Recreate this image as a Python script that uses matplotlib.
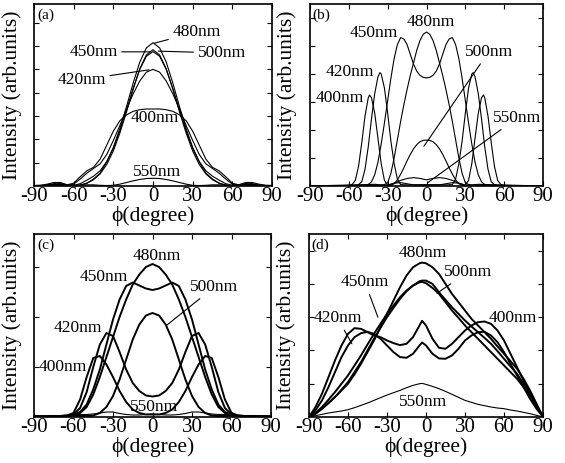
import matplotlib
matplotlib.use("Agg")
import matplotlib.pyplot as plt

plt.rcParams['font.family'] = ['Liberation Serif', 'DejaVu Serif']
plt.rcParams['mathtext.fontset'] = 'stix'

# ---------------- panel (a) ----------------
phi_a = [-90, -85, -80, -75, -70, -65, -60, -55, -50, -45, -40, -35, -30, -25, -20, -15, -10, -5,
         0, 5, 10, 15, 20, 25, 30, 35, 40, 45, 50, 55, 60, 65, 70, 75, 80, 85, 90]
a_480 = [0.02, 0.02, 0.03, 0.08, 0.10, 0.06, 0.02, 0.03, 0.12, 0.30, 0.55, 1.03, 1.65, 2.47, 3.41, 4.41, 5.31, 5.92,
         6.14, 5.92, 5.31, 4.41, 3.41, 2.47, 1.65, 1.03, 0.55, 0.30, 0.12, 0.03, 0.02, 0.06, 0.10, 0.08, 0.03, 0.02, 0.02]
a_500 = [0.02, 0.02, 0.03, 0.06, 0.08, 0.04, 0.02, 0.04, 0.12, 0.27, 0.52, 0.92, 1.50, 2.28, 3.18, 4.15, 5.02, 5.62,
         5.84, 5.62, 5.02, 4.15, 3.18, 2.28, 1.50, 0.92, 0.52, 0.27, 0.12, 0.04, 0.02, 0.04, 0.08, 0.06, 0.03, 0.02, 0.02]
a_450 = [0.02, 0.02, 0.02, 0.05, 0.06, 0.03, 0.03, 0.10, 0.25, 0.42, 0.65, 1.05, 1.62, 2.38, 3.25, 4.18, 5.00, 5.56,
         5.76, 5.56, 5.00, 4.18, 3.25, 2.38, 1.62, 1.05, 0.65, 0.42, 0.25, 0.10, 0.03, 0.03, 0.06, 0.05, 0.02, 0.02, 0.02]
a_420 = [0.02, 0.02, 0.05, 0.10, 0.08, 0.03, 0.08, 0.30, 0.55, 0.75, 0.95, 1.35, 1.95, 2.60, 3.30, 3.95, 4.50, 4.88,
         5.00, 4.88, 4.50, 3.95, 3.30, 2.60, 1.95, 1.35, 0.95, 0.75, 0.55, 0.30, 0.08, 0.03, 0.08, 0.10, 0.05, 0.02, 0.02]
a_400 = [0.02, 0.03, 0.08, 0.15, 0.15, 0.05, 0.12, 0.40, 0.65, 0.80, 1.15, 1.75, 2.35, 2.80, 3.05, 3.20, 3.27, 3.30,
         3.30, 3.30, 3.27, 3.20, 3.05, 2.80, 2.35, 1.75, 1.15, 0.80, 0.65, 0.40, 0.12, 0.05, 0.15, 0.15, 0.08, 0.03, 0.02]
a_550 = [0.02, 0.02, 0.02, 0.02, 0.02, 0.02, 0.02, 0.04, 0.05, 0.05, 0.03, 0.02, 0.03, 0.08, 0.15, 0.22, 0.28, 0.32,
         0.33, 0.32, 0.28, 0.22, 0.15, 0.08, 0.03, 0.02, 0.03, 0.05, 0.05, 0.04, 0.02, 0.02, 0.02, 0.02, 0.02, 0.02, 0.02]

# ---------------- panel (b) ----------------
phi_b_400 = [-90, -60, -57.5, -55, -52.5, -50, -47.5, -45, -44, -42.5, -40, -37.5, -35, -32.5, -30, -25, -20, -10, 0,
             10, 20, 25, 30, 32.5, 35, 37.5, 40, 42.5, 44, 45, 47.5, 50, 52.5, 55, 57.5, 60, 90]
b_400 = [0.0, 0.02, 0.05, 0.20, 0.70, 1.55, 2.50, 3.15, 3.25, 3.15, 2.60, 1.70, 0.80, 0.20, 0.03, 0.10, 0.12, 0.04, 0.02,
         0.04, 0.12, 0.10, 0.03, 0.20, 0.80, 1.70, 2.60, 3.15, 3.25, 3.15, 2.50, 1.55, 0.70, 0.20, 0.05, 0.02, 0.0]
phi_b_420 = [-90, -55, -52.5, -50, -47.5, -45, -42.5, -40, -37.5, -36, -35, -32.5, -30, -27.5, -25, -22.5, -20, -15, 0,
             15, 20, 22.5, 25, 27.5, 30, 32.5, 35, 36, 37.5, 40, 42.5, 45, 47.5, 50, 52.5, 55, 90]
b_420 = [0.0, 0.02, 0.05, 0.15, 0.60, 1.40, 2.40, 3.30, 3.90, 4.05, 4.00, 3.50, 2.60, 1.60, 0.80, 0.25, 0.05, 0.04, 0.05,
         0.04, 0.05, 0.25, 0.80, 1.60, 2.60, 3.50, 4.00, 4.05, 3.90, 3.30, 2.40, 1.40, 0.60, 0.15, 0.05, 0.02, 0.0]
phi_b_450 = [-90, -47.5, -45, -42.5, -40, -37.5, -35, -32.5, -30, -27.5, -25, -22.5, -20, -17.5, -15, -12.5, -10, -7.5, -5, -2.5,
             0, 2.5, 5, 7.5, 10, 12.5, 15, 17.5, 20, 22.5, 25, 27.5, 30, 32.5, 35, 37.5, 40, 42.5, 45, 47.5, 90]
b_450 = [0.0, 0.02, 0.05, 0.15, 0.40, 0.85, 1.50, 2.25, 3.05, 3.85, 4.55, 5.05, 5.30, 5.25, 5.05, 4.70, 4.35, 4.10, 3.95, 3.88,
         3.86, 3.88, 3.95, 4.10, 4.35, 4.70, 5.05, 5.25, 5.30, 5.05, 4.55, 3.85, 3.05, 2.25, 1.50, 0.85, 0.40, 0.15, 0.05, 0.02, 0.0]
phi_b_480 = [-90, -35, -32.5, -30, -27.5, -25, -22.5, -20, -17.5, -15, -12.5, -10, -7.5, -5, -2.5,
             0, 2.5, 5, 7.5, 10, 12.5, 15, 17.5, 20, 22.5, 25, 27.5, 30, 32.5, 35, 90]
b_480 = [0.0, 0.03, 0.05, 0.12, 0.45, 1.00, 1.65, 2.30, 2.90, 3.45, 3.95, 4.40, 4.85, 5.20, 5.42,
         5.50, 5.42, 5.20, 4.85, 4.40, 3.95, 3.45, 2.90, 2.30, 1.65, 1.00, 0.45, 0.12, 0.05, 0.03, 0.0]
phi_b_500 = [-90, -30, -27.5, -25, -22.5, -20, -17.5, -15, -12.5, -10, -7.5, -5, -2.5,
             0, 2.5, 5, 7.5, 10, 12.5, 15, 17.5, 20, 22.5, 25, 27.5, 30, 90]
b_500 = [0.0, 0.02, 0.03, 0.08, 0.22, 0.42, 0.65, 0.90, 1.13, 1.33, 1.48, 1.58, 1.63,
         1.64, 1.63, 1.58, 1.48, 1.33, 1.13, 0.90, 0.65, 0.42, 0.22, 0.08, 0.03, 0.02, 0.0]
phi_b_550 = [-90, -40, -35, -30, -25, -20, -15, -10, -5, 0, 5, 10, 15, 20, 25, 30, 35, 40, 90]
b_550 = [0.0, 0.06, 0.04, 0.03, 0.10, 0.20, 0.27, 0.30, 0.27, 0.22, 0.27, 0.30, 0.27, 0.20, 0.10, 0.03, 0.04, 0.06, 0.0]

# ---------------- panel (c) ----------------
phi_c = [-90, -80, -70, -65, -60, -55, -50, -45, -40, -35, -30, -25, -20, -15, -10, -5,
         0, 5, 10, 15, 20, 25, 30, 35, 40, 45, 50, 55, 60, 65, 70, 80, 90]
c_480 = [0.01, 0.01, 0.02, 0.02, 0.04, 0.08, 0.20, 0.45, 0.80, 1.20, 1.60, 2.00, 2.35, 2.65, 2.85, 3.00,
         3.06, 3.00, 2.85, 2.65, 2.35, 2.00, 1.60, 1.20, 0.80, 0.45, 0.20, 0.08, 0.04, 0.02, 0.02, 0.01, 0.01]
c_450 = [0.01, 0.01, 0.02, 0.02, 0.04, 0.10, 0.25, 0.55, 0.95, 1.45, 1.95, 2.35, 2.62, 2.69, 2.63, 2.57,
         2.54, 2.57, 2.63, 2.69, 2.62, 2.35, 1.95, 1.45, 0.95, 0.55, 0.25, 0.10, 0.04, 0.02, 0.02, 0.01, 0.01]
c_500 = [0.01, 0.01, 0.02, 0.03, 0.03, 0.02, 0.02, 0.03, 0.08, 0.20, 0.42, 0.75, 1.15, 1.55, 1.85, 2.03,
         2.08, 2.03, 1.85, 1.55, 1.15, 0.75, 0.42, 0.20, 0.08, 0.03, 0.02, 0.02, 0.03, 0.03, 0.02, 0.01, 0.01]
c_420 = [0.01, 0.01, 0.02, 0.02, 0.05, 0.18, 0.50, 1.00, 1.45, 1.68, 1.62, 1.30, 0.95, 0.68, 0.52, 0.43,
         0.41, 0.43, 0.52, 0.68, 0.95, 1.30, 1.62, 1.68, 1.45, 1.00, 0.50, 0.18, 0.05, 0.02, 0.02, 0.01, 0.01]
c_400 = [0.01, 0.01, 0.02, 0.03, 0.08, 0.35, 0.80, 1.18, 1.22, 1.05, 0.80, 0.52, 0.30, 0.15, 0.08, 0.05,
         0.05, 0.05, 0.08, 0.15, 0.30, 0.52, 0.80, 1.05, 1.22, 1.18, 0.80, 0.35, 0.08, 0.03, 0.02, 0.01, 0.01]
c_550 = [0.01, 0.01, 0.02, 0.03, 0.04, 0.05, 0.05, 0.06, 0.08, 0.10, 0.10, 0.07, 0.05, 0.04, 0.04, 0.05,
         0.06, 0.05, 0.04, 0.04, 0.05, 0.07, 0.10, 0.10, 0.08, 0.06, 0.05, 0.05, 0.04, 0.03, 0.02, 0.01, 0.01]

# ---------------- panel (d) ----------------
phi_d = [-90, -85, -80, -75, -70, -65, -60, -55, -50, -45, -40, -35, -30, -25, -20, -15, -10, -5, -3,
         0, 5, 10, 15, 20, 25, 30, 35, 40, 45, 50, 55, 60, 65, 70, 75, 80, 85, 90]
d_480 = [0.0, 0.10, 0.25, 0.42, 0.60, 0.80, 1.00, 1.28, 1.60, 1.95, 2.30, 2.70, 3.10, 3.50, 3.90, 4.25, 4.50, 4.62, 4.64,
         4.62, 4.50, 4.30, 4.00, 3.70, 3.45, 3.20, 2.95, 2.75, 2.55, 2.35, 2.12, 1.90, 1.68, 1.45, 1.15, 0.80, 0.40, 0.0]
d_500 = [0.0, 0.10, 0.25, 0.42, 0.60, 0.82, 1.05, 1.35, 1.65, 2.00, 2.35, 2.68, 3.00, 3.28, 3.55, 3.78, 3.95, 4.08, 4.10,
         4.10, 4.00, 3.75, 3.52, 3.30, 3.10, 2.90, 2.72, 2.55, 2.38, 2.20, 1.98, 1.75, 1.52, 1.30, 1.00, 0.70, 0.35, 0.0]
d_450 = [0.0, 0.12, 0.30, 0.52, 0.75, 1.00, 1.25, 1.55, 1.85, 2.18, 2.50, 2.80, 3.10, 3.35, 3.60, 3.80, 3.95, 4.05, 4.06,
         4.02, 3.88, 3.70, 3.45, 3.20, 2.98, 2.75, 2.55, 2.35, 2.15, 1.95, 1.75, 1.55, 1.35, 1.15, 0.90, 0.65, 0.33, 0.0]
d_400 = [0.0, 0.30, 0.70, 1.20, 1.70, 2.15, 2.50, 2.67, 2.65, 2.55, 2.45, 2.40, 2.30, 2.22, 2.16, 2.20, 2.40, 2.75, 2.89,
         2.75, 2.35, 2.08, 2.05, 2.20, 2.40, 2.60, 2.75, 2.85, 2.87, 2.80, 2.60, 2.30, 1.90, 1.50, 1.10, 0.70, 0.35, 0.0]
d_420 = [0.0, 0.20, 0.50, 0.90, 1.35, 1.80, 2.15, 2.40, 2.52, 2.56, 2.50, 2.35, 2.15, 1.95, 1.80, 1.78, 1.90, 2.15, 2.24,
         2.15, 1.90, 1.76, 1.75, 1.85, 2.05, 2.30, 2.45, 2.55, 2.56, 2.45, 2.25, 1.95, 1.60, 1.25, 0.90, 0.55, 0.25, 0.0]
d_550 = [0.0, 0.04, 0.08, 0.12, 0.15, 0.18, 0.22, 0.28, 0.35, 0.42, 0.50, 0.58, 0.66, 0.73, 0.80, 0.88, 0.95, 1.00, 1.01,
         0.98, 0.92, 0.85, 0.77, 0.68, 0.59, 0.50, 0.44, 0.38, 0.34, 0.30, 0.27, 0.25, 0.21, 0.18, 0.14, 0.10, 0.05, 0.0]

phi_ticks = [-90, -60, -30, 0, 30, 60, 90]

W, H = 565, 463
fig = plt.figure(figsize=(W / 100, H / 100), dpi=100)


def make_axes(px_left, px_right, px_top, px_bottom):
    return fig.add_axes([px_left / W, 1 - px_bottom / H,
                         (px_right - px_left) / W, (px_bottom - px_top) / H])


def style(ax, ymax, ystep, letter):
    ax.set_xlim(-90, 90)
    ax.set_ylim(0, ymax)
    ax.set_xticks(phi_ticks)
    ax.set_xticklabels([str(t) for t in phi_ticks])
    yt = [ystep * k for k in range(1, int(ymax / ystep) + 1)]
    ax.set_yticks(yt)
    ax.set_yticklabels([])
    ax.tick_params(direction='in', top=True, right=True, length=3.5, width=0.8,
                   labelsize=15, pad=1)
    for s in ax.spines.values():
        s.set_linewidth(1.2)
    ax.set_xlabel('ϕ(degree)', fontsize=15.5)
    ax.set_ylabel('Intensity (arb.units)', fontsize=15.5)
    ax.xaxis.set_label_coords(0.5, -0.112)
    ax.text(0.05, 0.94, letter, transform=ax.transAxes, fontsize=11,
            ha='center', va='center')


def label(ax, text, xy_text, xy_point=None):
    if xy_point is None:
        ax.text(xy_text[0], xy_text[1], text, fontsize=12.5, ha='center', va='center')
    else:
        ax.annotate(text, xy=xy_point, xytext=xy_text, fontsize=12.5,
                    ha='center', va='center',
                    arrowprops=dict(arrowstyle='-', lw=0.8, color='black',
                                    shrinkA=1, shrinkB=0))


# (a)
ax = make_axes(34, 272, 4, 186)
for ys in (a_480, a_500, a_450, a_420, a_400, a_550):
    ax.plot(phi_a, ys, color='black', lw=0.8)
style(ax, 7.8, 1.0, '(a)')
ax.yaxis.set_label_coords(-0.05, 0.5)
label(ax, '480nm', (33, 6.6), (1, 6.12))
label(ax, '450nm', (-45, 5.75), (-2, 5.75))
label(ax, '500nm', (52, 5.7), (4, 5.78))
label(ax, '420nm', (-54, 4.55), (-3, 4.98))
label(ax, '400nm', (1.5, 2.9))
label(ax, '550nm', (3, 0.62))

# (b)
ax = make_axes(310, 543, 4, 186)
for xs, ys in ((phi_b_400, b_400), (phi_b_420, b_420), (phi_b_450, b_450),
               (phi_b_480, b_480), (phi_b_500, b_500), (phi_b_550, b_550)):
    ax.plot(xs, ys, color='black', lw=0.8)
style(ax, 6.5, 1.0, '(b)')
ax.yaxis.set_label_coords(-0.055, 0.5)
label(ax, '480nm', (3.5, 5.86))
label(ax, '450nm', (-40.5, 5.46))
label(ax, '420nm', (-59, 4.07))
label(ax, '400nm', (-67, 3.14))
label(ax, '500nm', (48, 4.79), (-2, 1.42))
label(ax, '550nm', (70, 2.43), (1, 0.12))

# (c)
ax = make_axes(34, 271, 234, 417)
for ys in (c_480, c_450, c_500, c_420, c_400):
    ax.plot(phi_c, ys, color='black', lw=1.4)
ax.plot(phi_c, c_550, color='black', lw=0.8)
style(ax, 3.66, 1.0, '(c)')
ax.yaxis.set_label_coords(-0.05, 0.5)
label(ax, '480nm', (3.5, 3.22))
label(ax, '450nm', (-37, 2.8))
label(ax, '500nm', (47, 2.6), (11, 1.84))
label(ax, '420nm', (-56.5, 1.78))
label(ax, '400nm', (-68, 1.0))
label(ax, '550nm', (1, 0.2))

# (d)
ax = make_axes(309, 543, 234, 417)
for ys in (d_480, d_500, d_450, d_400, d_420):
    ax.plot(phi_d, ys, color='black', lw=1.4)
ax.plot(phi_d, d_550, color='black', lw=0.8)
style(ax, 5.5, 1.0, '(d)')
ax.yaxis.set_label_coords(-0.055, 0.5)
label(ax, '480nm', (-2.5, 4.92))
label(ax, '500nm', (32, 4.35), (8.5, 3.72))
label(ax, '450nm', (-47, 4.05), (-37, 3.0))
label(ax, '420nm', (-68, 2.97), (-57, 2.2))
label(ax, '400nm', (67, 2.97))
label(ax, '550nm', (-2.5, 0.45))

fig.savefig('out.png', dpi=100)
